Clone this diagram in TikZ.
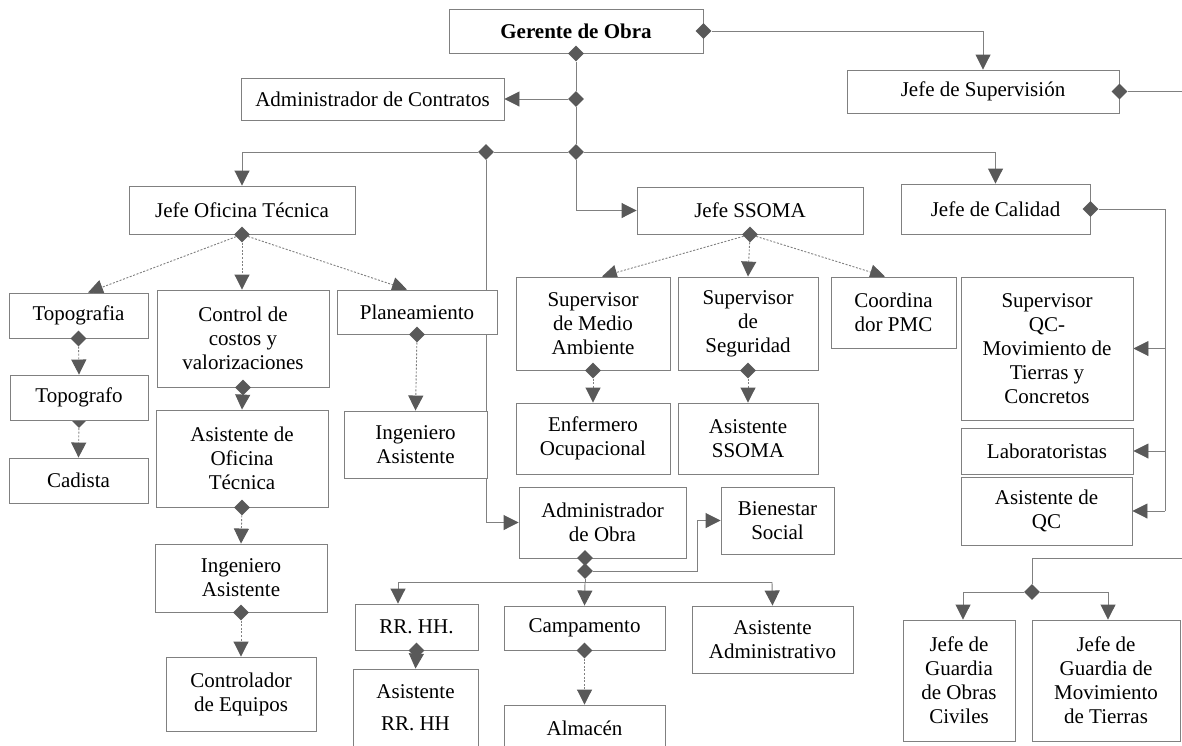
\documentclass[tikz,border=0pt]{standalone}
\usepackage{fontspec}
\setmainfont{Liberation Serif}
\usetikzlibrary{arrows.meta,shapes.geometric}
\definecolor{lgray}{HTML}{808080}
\definecolor{dgray}{HTML}{595959}
\pgfdeclarelayer{bg}
\pgfsetlayers{bg,main}
\begin{document}
\begin{tikzpicture}[x=1pt,y=-1pt,
 box/.style={draw=lgray,fill=white,line width=0.9pt,align=center,inner sep=0pt,font=\fontsize{21}{24}\selectfont},
 con/.style={draw=lgray,line width=0.9pt},
 arr/.style={con,-{Triangle[length=15pt,width=15pt,color=dgray]}},
 darr/.style={arr,dash pattern=on 2pt off 1.6pt},
 dia/.style={diamond,fill=dgray,inner sep=0pt,minimum width=16pt,minimum height=16pt}]
\useasboundingbox (0,0) rectangle (1182,745);

% ---------- boxes ----------
\node[box,minimum width=254pt,minimum height=44pt,font=\fontsize{21}{24}\selectfont\bfseries] (gerente) at (576,31) {Gerente de Obra};
\node[box,minimum width=272pt,minimum height=43pt] (supervision) at (983,91.5) {Jefe de Supervisión};
\node[box,minimum width=263pt,minimum height=42pt] (admcon) at (372.5,99) {Administrador de Contratos};
\node[box,minimum width=226pt,minimum height=48pt] (jot) at (242,210) {Jefe Oficina Técnica};
\node[box,minimum width=226pt,minimum height=47pt] (ssoma) at (750,210.5) {Jefe SSOMA};
\node[box,minimum width=189pt,minimum height=50pt] (calidad) at (995.5,209) {Jefe de Calidad};

\node[box,minimum width=139pt,minimum height=45pt] (topografia) at (78.5,315.5) {Topografia};
\node[box,minimum width=172pt,minimum height=97pt] (costos) at (243,338.5) {Control de\\costos y\\valorizaciones};
\node[box,minimum width=160pt,minimum height=44pt] (planeamiento) at (417,312) {Planeamiento};
\node[dia] (dtopografo) at (79,420) {};
\node[box,minimum width=138pt,minimum height=45pt] (topografo) at (79,397.5) {Topografo};
\node[box,minimum width=139pt,minimum height=45pt] (cadista) at (78.5,480.5) {Cadista};
\node[box,minimum width=172pt,minimum height=97pt] (asisot) at (242,458.5) {Asistente de\\Oficina\\Técnica};
\node[box,minimum width=172pt,minimum height=68pt] (ingasis1) at (241,578) {Ingeniero\\Asistente};
\node[box,minimum width=150pt,minimum height=74pt] (controlador) at (241,694) {Controlador\\de Equipos};
\node[box,minimum width=143pt,minimum height=67pt] (ingasis2) at (415.5,444.5) {Ingeniero\\Asistente};

\node[box,minimum width=154pt,minimum height=93pt] (sma) at (593,323.5) {Supervisor\\de Medio\\Ambiente};
\node[box,minimum width=140pt,minimum height=93pt] (sseg) at (748,323.5) {Supervisor\\de\\Seguridad};
\node[box,minimum width=125pt,minimum height=71pt] (pmc) at (893.5,312.5) {Coordina\\dor PMC};
\node[box,minimum width=154pt,minimum height=71pt] (enfermero) at (593,438.5) {Enfermero\\Ocupacional};
\node[box,minimum width=140pt,minimum height=71pt] (asisssoma) at (748,438.5) {Asistente\\SSOMA};

\node[box,minimum width=172pt,minimum height=143pt] (supqc) at (1047,348.5) {Supervisor\\QC-\\Movimiento de\\Tierras y\\Concretos};
\node[box,minimum width=172pt,minimum height=46pt] (lab) at (1047,451) {Laboratoristas};
\node[box,minimum width=171pt,minimum height=68pt] (asisqc) at (1046.5,511) {Asistente de\\QC};

\node[box,minimum width=167pt,minimum height=71pt] (admobra) at (602.5,522.5) {Administrador\\de Obra};
\node[box,minimum width=113pt,minimum height=67pt] (bienestar) at (777.5,520.5) {Bienestar\\Social};
\node[box,minimum width=123pt,minimum height=46pt] (rrhh) at (416.5,627) {RR. HH.};
\node[box,minimum width=161pt,minimum height=44pt] (campamento) at (584.5,628) {Campamento};
\node[box,minimum width=161pt,minimum height=67pt] (asisadm) at (772.5,639.5) {Asistente\\Administrativo};
\node[box,minimum width=125pt,minimum height=78pt] (asisrrhh) at (415.5,708) {Asistente\\[8pt]RR. HH};
\node[box,minimum width=161pt,minimum height=46pt] (almacen) at (584.5,728) {Almacén};

\node[box,minimum width=112pt,minimum height=121pt] (jgoc) at (959,680.5) {Jefe de\\Guardia\\de Obras\\Civiles};
\node[box,minimum width=148pt,minimum height=121pt] (jgmt) at (1106,680.5) {Jefe de\\Guardia de\\Movimiento\\de Tierras};

% ---------- diamonds ----------
\node[dia] (dgeast) at (gerente.east) {};
\node[dia] (dgsouth) at (gerente.south) {};
\node[dia] (d1) at (576,99) {};
\node[dia] (d2) at (576,152) {};
\node[dia] (d3) at (486,152) {};
\node[dia] (dsup) at (supervision.east) {};
\node[dia] (djot) at (jot.south) {};
\node[dia] (dss) at (ssoma.south) {};
\node[dia] (dcal) at (calidad.east) {};
\node[dia] (dtopografia) at (topografia.south) {};
\node[dia] (dcostos) at (costos.south) {};
\node[dia] (dplan) at (planeamiento.south) {};
\node[dia] (dasisot) at (asisot.south) {};
\node[dia] (dingasis1) at (ingasis1.south) {};
\node[dia] (dsma) at (sma.south) {};
\node[dia] (dsseg) at (sseg.south) {};
\node[dia] (dao1) at (585,558) {};
\node[dia] (dao2) at (585,571) {};
\node[dia] (drrhh) at (rrhh.south) {};
\node[dia] (dcamp) at (campamento.south) {};
\node[dia] (dbr) at (1032,592) {};

% ---------- coordinates ----------
\coordinate (supr) at (1182,91.5);
\coordinate (cq) at (1165,209);
\coordinate (bend) at (697,571);
\coordinate (hj) at (585,582);
\coordinate (hl) at (398,582);
\coordinate (hr) at (772,582);
\coordinate (brr) at (1182,558);
\coordinate (brj) at (1032,558);

% ---------- connectors ----------
\begin{pgfonlayer}{bg}
\fill[white] (0,0) rectangle (1182,745);
\draw[arr] (dgeast) -| (supervision.north);
\draw[con] (dsup) -- (supr);
\draw[con] (dgsouth) -- (d1);
\draw[con] (d1) -- (d2);
\draw[arr] (d1) -- (admcon.east);
\draw[con] (d2) -- (d3);
\draw[arr] (d3) -| (jot.north);
\draw[arr] (d2) -| (calidad.north);
\draw[arr] (d3) |- (admobra.west);
\draw[arr] (d2) |- (ssoma.west);

\draw[darr] (djot) -- ([xshift=9.5pt]topografia.north);
\draw[darr] (djot) -- (djot |- costos.north);
\draw[darr] (djot) -- ([xshift=-10pt]planeamiento.north);
\draw[darr] (dtopografia) -- (topografo.north);
\draw[darr] (dtopografo) -- (cadista.north);
\draw[darr] (dcostos) -- (asisot.north);
\draw[darr] (dasisot) -- (ingasis1.north);
\draw[darr] (dingasis1) -- (controlador.north);
\draw[darr] (dplan) -- (ingasis2.north);

\draw[darr] (dss) -- ([xshift=9pt]sma.north);
\draw[darr] (dss) -- (sseg.north);
\draw[darr] (dss) -- ([xshift=-8.5pt]pmc.north);
\draw[darr] (dsma) -- (enfermero.north);
\draw[darr] (dsseg) -- (asisssoma.north);

\draw[con] (dcal) -- (cq) -- (cq |- asisqc.east);
\draw[arr] (cq |- supqc.east) -- (supqc.east);
\draw[arr] (cq |- lab.east) -- (lab.east);
\draw[arr] (cq |- asisqc.east) -- (asisqc.east);

\draw[con] (dao1) -- (dao2);
\draw[arr] (dao2) -- (bend) |- (bienestar.west);
\draw[con] (dao2) -- (hj);
\draw[con] (hl) -- (hr);
\draw[arr] (hl) -- (hl |- rrhh.north);
\draw[arr] (hj) -- (campamento.north);
\draw[arr] (hr) -- (asisadm.north);
\draw[arr] (drrhh) -- (asisrrhh.north);
\draw[darr] (dcamp) -- (almacen.north);

\draw[con] (brr) -- (brj) -- (dbr);
\draw[arr] (dbr) -| ([xshift=4pt]jgoc.north);
\draw[arr] (dbr) -| ([xshift=2pt]jgmt.north);
\end{pgfonlayer}
\end{tikzpicture}
\end{document}
